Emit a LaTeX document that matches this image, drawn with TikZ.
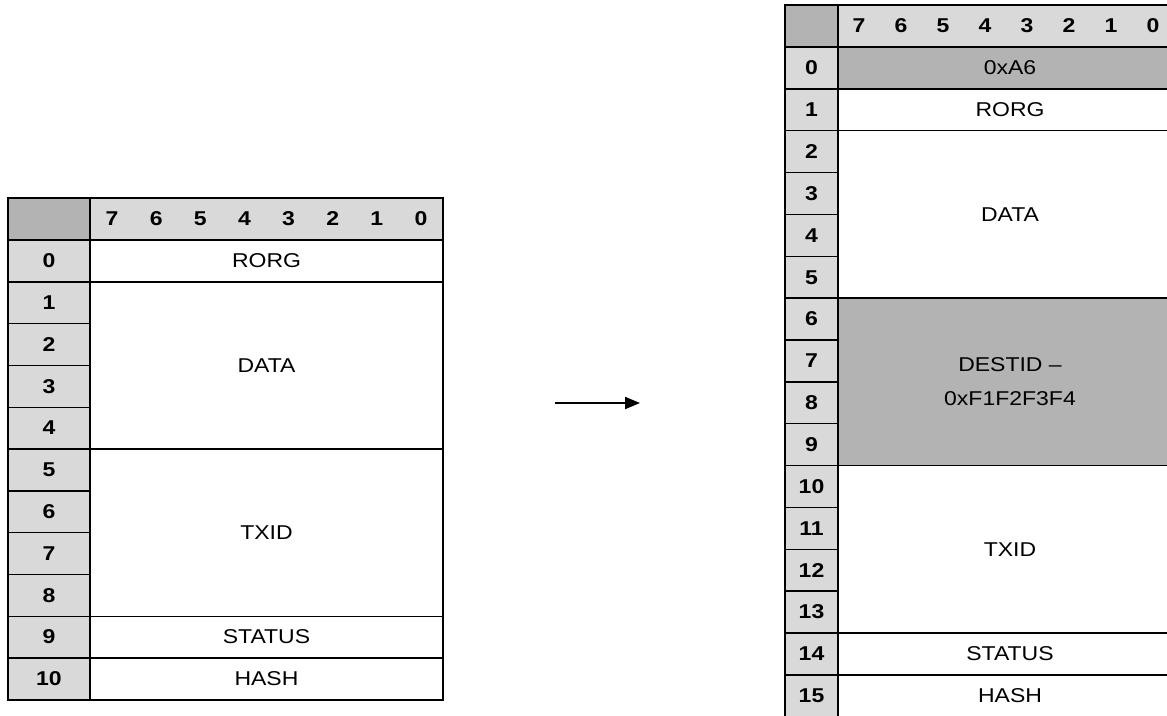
\documentclass[tikz,border=0pt]{standalone}
\usepackage{fontspec}
\setmainfont[FakeStretch=1.15]{Liberation Sans}
\usetikzlibrary{arrows.meta}
\definecolor{hdr}{HTML}{D9D9D9}
\definecolor{dark}{HTML}{B3B3B3}
\tikzset{
  cell/.style={draw=black, line width=1.4pt, anchor=north west, inner sep=0pt, outer sep=0pt,
    font=\fontsize{20}{34}\selectfont, align=center, text=black},
  numtxt/.style={font=\fontsize{20}{24}\selectfont\bfseries},
  bittxt/.style={inner sep=0pt, font=\fontsize{20}{24}\selectfont\bfseries, text=black},
  conn/.style={line width=2pt, -{Triangle[length=15pt,width=12pt]}},
}
\begin{document}
\begin{tikzpicture}[x=1pt,y=-1pt]
\useasboundingbox (0,0) rectangle (1167,715);
\clip (0,0) rectangle (1167,715);
% ---------- left table ----------
\node[cell, fill=dark, minimum width=82pt, minimum height=42pt] (Lcorner) at (8,198) {};
\node[cell, fill=hdr, minimum width=353pt, minimum height=42pt] (Lhead) at (90,198) {};
\foreach \j in {0,...,7}{
  \pgfmathtruncatemacro{\b}{7-\j}
  \node[bittxt] (Lb\b) at ({90+44.125*(\j+0.5)},219) {\b};
}
\foreach \i in {0,...,10}{
  \node[cell, fill=hdr, numtxt, minimum width=82pt, minimum height=41.8pt] (L\i) at (8,{240+\i*41.8}) {\i};
}
\node[cell, fill=white, minimum width=353pt, minimum height=41.8pt] (Lrorg) at (90,240) {RORG};
\node[cell, fill=white, minimum width=353pt, minimum height=167.2pt] (Ldata) at (90,281.8) {DATA};
\node[cell, fill=white, minimum width=353pt, minimum height=167.2pt] (Ltxid) at (90,449) {TXID};
\node[cell, fill=white, minimum width=353pt, minimum height=41.8pt] (Lstatus) at (90,616.2) {STATUS};
\node[cell, fill=white, minimum width=353pt, minimum height=41.8pt] (Lhash) at (90,658) {HASH};
% ---------- right table ----------
\node[cell, fill=dark, minimum width=53pt, minimum height=42pt] (Rcorner) at (785,5) {};
\node[cell, fill=hdr, minimum width=344pt, minimum height=42pt] (Rhead) at (838,5) {};
\foreach \j in {0,...,7}{
  \pgfmathtruncatemacro{\b}{7-\j}
  \node[bittxt] (Rb\b) at ({838+42*(\j+0.5)},26) {\b};
}
\foreach \i in {0,...,15}{
  \node[cell, fill=hdr, numtxt, minimum width=53pt, minimum height=41.86pt] (R\i) at (785,{47+\i*41.86}) {\i};
}
\node[cell, fill=dark, minimum width=344pt, minimum height=41.86pt] (Rsig) at (838,47) {0xA6};
\node[cell, fill=white, minimum width=344pt, minimum height=41.86pt] (Rrorg) at (838,88.86) {RORG};
\node[cell, fill=white, minimum width=344pt, minimum height=167.44pt] (Rdata) at (838,130.72) {DATA};
\node[cell, fill=dark, minimum width=344pt, minimum height=167.44pt] (Rdest) at (838,298.16) {DESTID –\\0xF1F2F3F4};
\node[cell, fill=white, minimum width=344pt, minimum height=167.44pt] (Rtxid) at (838,465.6) {TXID};
\node[cell, fill=white, minimum width=344pt, minimum height=41.86pt] (Rstatus) at (838,633.04) {STATUS};
\node[cell, fill=white, minimum width=344pt, minimum height=41.86pt] (Rhash) at (838,674.9) {HASH};
% ---------- arrow ----------
\coordinate (arrowstart) at (555,403);
\coordinate (arrowend) at (640,403);
\draw[conn] (arrowstart) -- (arrowend);
\end{tikzpicture}
\end{document}
